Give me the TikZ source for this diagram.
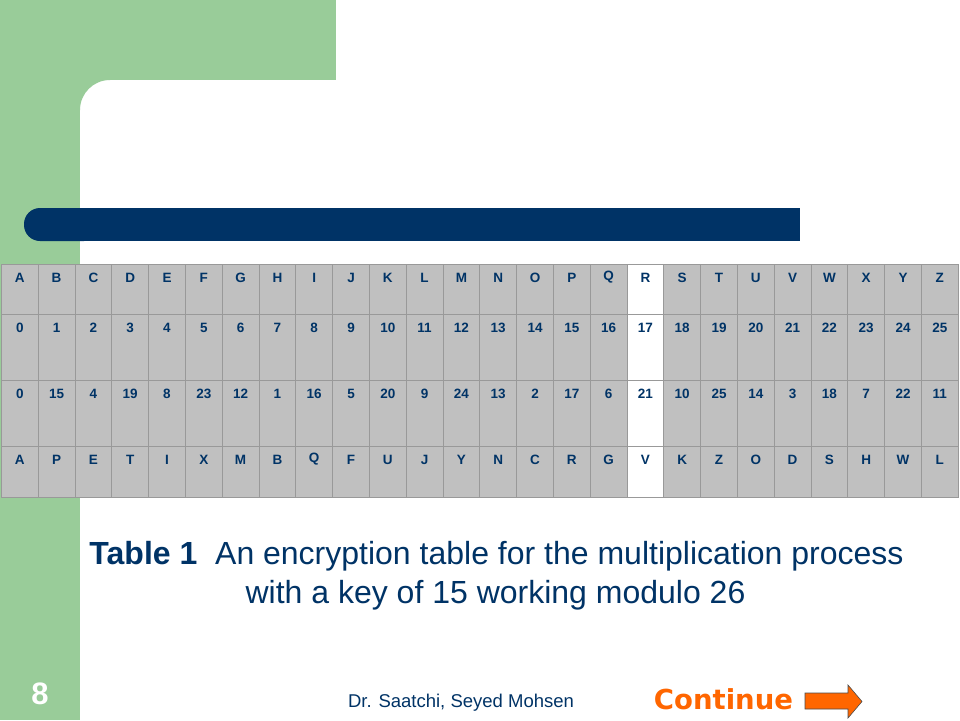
\documentclass[tikz,border=0pt]{standalone}
\usepackage{fontspec}
\setmainfont{Liberation Sans}
\newfontfamily\verd{DejaVu Sans}
\definecolor{sgreen}{HTML}{99CC99}
\definecolor{navy}{HTML}{003366}
\definecolor{cellgray}{HTML}{C0C0C0}
\definecolor{cellline}{HTML}{999999}
\definecolor{orng}{HTML}{FF6600}
\tikzset{
  cellbox/.style={draw=cellline, line width=0.8pt, inner sep=0pt, anchor=north west, minimum width=36.8pt},
  celltext/.style={text=navy, font=\bfseries\fontsize{13.5}{15}\selectfont, inner sep=0pt, anchor=center},
}
\newcommand\tabrow[4]{%
  \foreach \t [count=\i from 0] in {#4} {
    \def\cf{cellgray}\ifnum\i=17 \def\cf{white}\fi
    \node[cellbox, fill=\cf, minimum height=#3 pt] (#1\i) at ({1+\i*36.8},#2) {};
    \node[celltext] (t#1\i) at ([yshift=-13.5pt]#1\i.north) {\t};
  }%
}
\begin{document}
\begin{tikzpicture}[x=1pt,y=-1pt]
\useasboundingbox (0,0) rectangle (960,720);
\fill[white] (0,0) rectangle (960,720);
% green frame
\fill[sgreen] (0,0) rectangle (80,720);
\fill[sgreen] (0,0) rectangle (336,80);
\fill[sgreen] (80,80) -- (110,80) .. controls (93.4,80) and (80,93.4) .. (80,110) -- cycle;
% blue bar
\fill[navy, rounded corners=16pt] (24,208) rectangle (100,241);
\fill[navy] (60,208) rectangle (800,241);
% table
\tabrow{a}{264}{50}{A,B,C,D,E,F,G,H,I,J,K,L,M,N,O,P,Q,R,S,T,U,V,W,X,Y,Z}
\tabrow{b}{314}{66}{0,1,2,3,4,5,6,7,8,9,10,11,12,13,14,15,16,17,18,19,20,21,22,23,24,25}
\tabrow{c}{380}{66}{0,15,4,19,8,23,12,1,16,5,20,9,24,13,2,17,6,21,10,25,14,3,18,7,22,11}
\tabrow{d}{446}{51}{A,P,E,T,I,X,M,B,Q,F,U,J,Y,N,C,R,G,V,K,Z,O,D,S,H,W,L}
% caption
\node[text=navy, font=\fontsize{32}{38}\selectfont, anchor=base, inner sep=0pt] (cap1) at (496.5,564)
  {\textbf{Table 1}\ \ An encryption table for the multiplication process};
\node[text=navy, font=\fontsize{32}{38}\selectfont, anchor=base, inner sep=0pt] (cap2) at (495.5,603)
  {with a key of 15 working modulo 26};
% footer
\node[text=white, font=\bfseries\fontsize{31}{36}\selectfont, anchor=base, inner sep=0pt] (pg) at (40,704) {8};
\node[text=navy, font=\fontsize{18.5}{22}\selectfont, anchor=base, inner sep=0pt] (auth) at (461,707) {Dr. Saatchi, Seyed Mohsen};
\node[text=orng, font=\verd\bfseries\fontsize{27.5}{32}\selectfont, anchor=base, inner sep=0pt] (cont) at (723.5,709) {Continue};
\draw[fill=orng, draw=black!70, line width=0.6pt] (805,693) -- (848,693) -- (848,685) -- (862,701.5) -- (848,718) -- (848,709) -- (805,709) -- cycle;
\end{tikzpicture}
\end{document}
